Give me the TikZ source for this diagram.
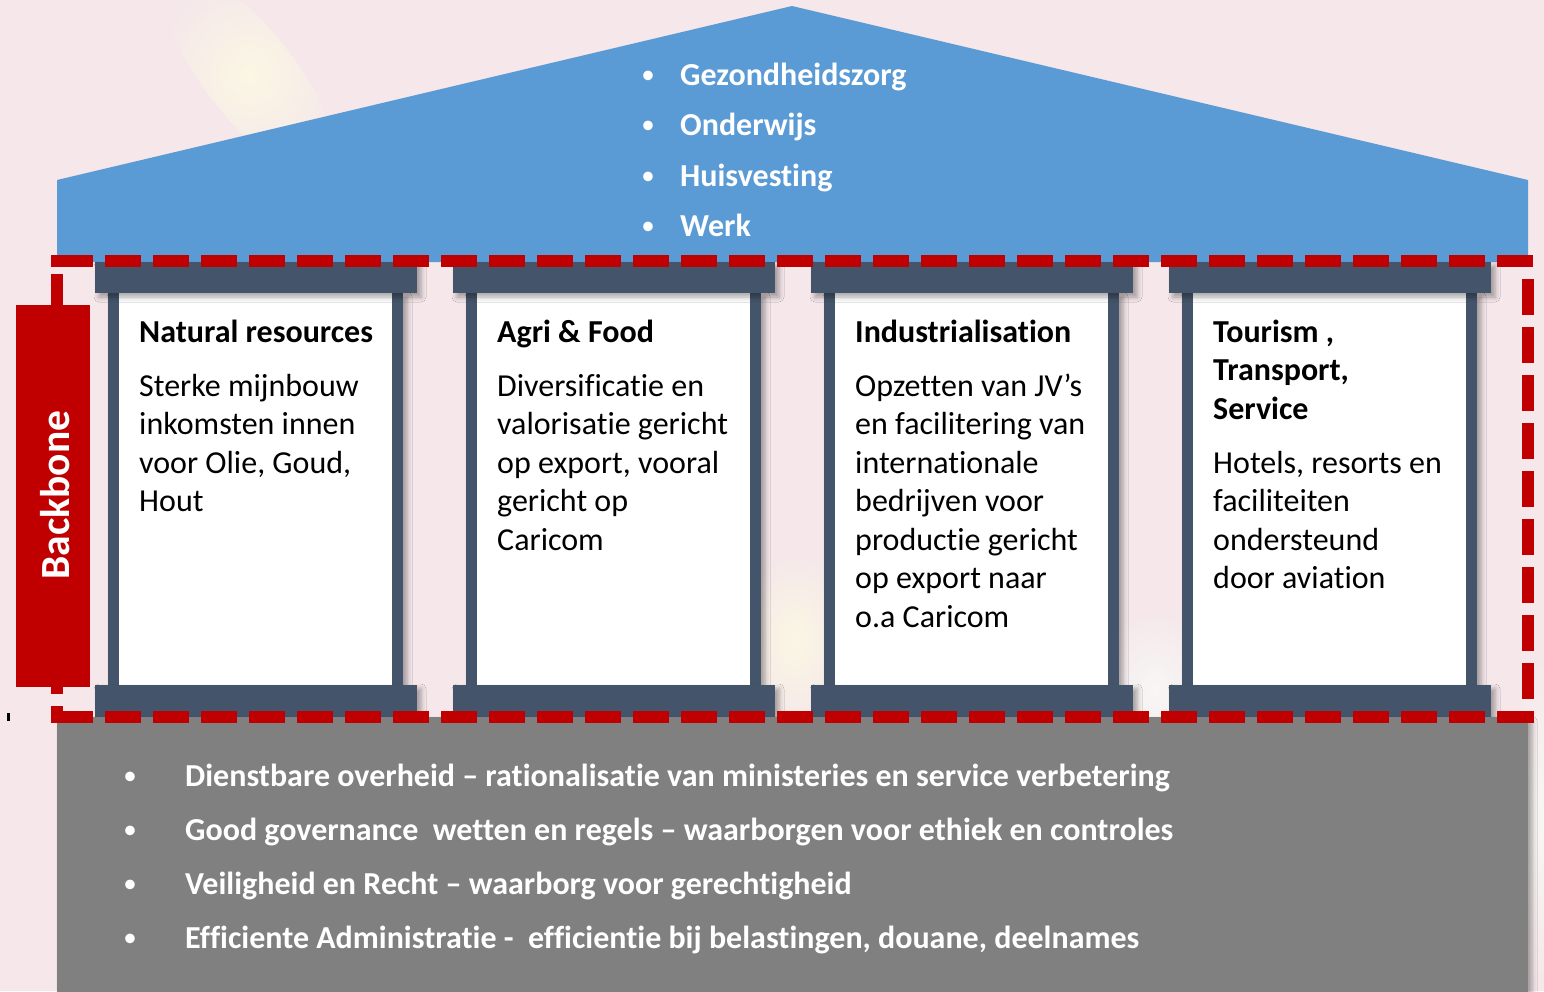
\documentclass[tikz,border=0pt]{standalone}
\usepackage{fontspec}
\setmainfont{Carlito}[Ligatures=NoCommon]
\usetikzlibrary{shadows.blur}
\definecolor{bgpink}{HTML}{F5E7EA}
\definecolor{glow}{HTML}{FAF7E3}
\definecolor{glowwhite}{HTML}{F7F7F5}
\definecolor{roofblue}{HTML}{5B9BD5}
\definecolor{slate}{HTML}{44546A}
\definecolor{bbred}{HTML}{C00000}
\definecolor{basegray}{HTML}{808080}
\newcommand\mainsize{\fontsize{32}{38}\selectfont}
\newcommand\pillardraw[1]{%
  \fill[white, shd] (#1+13,293) rectangle (#1+308,685);
  \fill[slate] (#1+13,293) rectangle (#1+24,685);
  \fill[slate] (#1+297,293) rectangle (#1+308,685);
  \fill[slate, shd] (#1,262) rectangle (#1+322,293);
  \fill[slate, shd] (#1,685) rectangle (#1+322,717);
}
\newcommand\pillartext[5]{%
  \foreach \t [count=\i] in {#3} {\node[ttl] (#1t\i) at (#2+44, {342+38.5*(\i-1)}) {\t};}
  \foreach \t [count=\i] in {#5} {\node[bdy] (#1b\i) at (#2+44, {#4+38.5*(\i-1)}) {\t};}
}
\begin{document}
\begin{tikzpicture}[x=1pt, y=-1pt,
  shd/.style={blur shadow={shadow xshift=4pt, shadow yshift=-4pt, shadow blur radius=5pt, shadow opacity=35}},
  ttl/.style={inner sep=0pt, anchor=base west, font=\mainsize\bfseries, text=black},
  bdy/.style={inner sep=0pt, anchor=base west, font=\mainsize, text=black},
  rooftxt/.style={inner sep=0pt, anchor=base west, font=\mainsize\bfseries, text=white},
  bul/.style={inner sep=0pt, anchor=base, font=\fontsize{27}{27}\selectfont, text=white},
  redline/.style={draw=bbred, line width=12pt, dash pattern=on 36pt off 12pt}
]
\useasboundingbox (0,0) rectangle (1544,991);
% background
\fill[bgpink] (0,0) rectangle (1544,991);
\begin{scope}[shift={(250,75)}, rotate=-52]
  \shade[inner color=glow, outer color=bgpink] (0,0) ellipse [x radius=130, y radius=45];
\end{scope}
\shade[inner color=glow, outer color=bgpink] (795,640) ellipse [x radius=60, y radius=90];
\shade[inner color=glowwhite, outer color=bgpink] (1155,690) ellipse [x radius=60, y radius=80];
\shade[inner color=glowwhite, outer color=bgpink] (1544,820) ellipse [x radius=40, y radius=170];
% roof
\fill[roofblue] (57,262) -- (57,180) -- (792,6) -- (1528,180) -- (1528,262) -- cycle;
% pillars
\pillardraw{95}
\pillardraw{453}
\pillardraw{811}
\pillardraw{1169}
% base
\fill[basegray, shd] (57,717) rectangle (1528,995);
% dashed frame
\draw[redline] (57,261) -- (1534,261);
\fill[bbred] (51,255) rectangle (57,267);
\draw[redline] (57,717) -- (1534,717);
\draw[redline] (57,274) -- (57,723);
\draw[redline] (1528,279) -- (1528,723);
% backbone
\fill[bbred] (16,305) rectangle (90,687);
\node[rotate=90, inner sep=0pt, text=white, font=\fontsize{41.5}{41.5}\selectfont\bfseries] (bb) at (55,495) {Backbone};
\fill[black] (7,713) rectangle (10,721);
% roof text
\node[bul] (rb1) at (648,83.5) {•};
\node[rooftxt] (r1) at (680,85.5) {Gezondheidszorg};
\node[bul] (rb2) at (648,133.8) {•};
\node[rooftxt] (r2) at (680,135.8) {Onderwijs};
\node[bul] (rb3) at (648,184.1) {•};
\node[rooftxt] (r3) at (680,186.1) {Huisvesting};
\node[bul] (rb4) at (648,234.4) {•};
\node[rooftxt] (r4) at (680,236.4) {Werk};
% pillar text
\pillartext{pa}{95}{Natural resources}{396}{Sterke mijnbouw, inkomsten innen, {voor Olie, Goud,}, Hout}
\pillartext{pb}{453}{Agri \& Food}{396}{Diversificatie en, valorisatie gericht, {op export, vooral}, gericht op, Caricom}
\pillartext{pc}{811}{Industrialisation}{396}{Opzetten van JV’s, en facilitering van, internationale, bedrijven voor, productie gericht, op export naar, o.a Caricom}
\pillartext{pd}{1169}{{Tourism ,}, {Transport,}, Service}{473}{{Hotels, resorts en}, faciliteiten, ondersteund, door aviation}
% base text
\node[bul] (bb1) at (130,784) {•};
\node[rooftxt] (b1) at (185,786) {Dienstbare overheid – rationalisatie van ministeries en service verbetering};
\node[bul] (bb2) at (130,838) {•};
\node[rooftxt] (b2) at (185,840) {Good governance\ \ wetten en regels – waarborgen voor ethiek en controles};
\node[bul] (bb3) at (130,892) {•};
\node[rooftxt] (b3) at (185,894) {Veiligheid en Recht – waarborg voor gerechtigheid};
\node[bul] (bb4) at (130,946) {•};
\node[rooftxt] (b4) at (185,948) {Efficiente Administratie -\ \ efficientie bij belastingen, douane, deelnames};
\end{tikzpicture}
\end{document}
